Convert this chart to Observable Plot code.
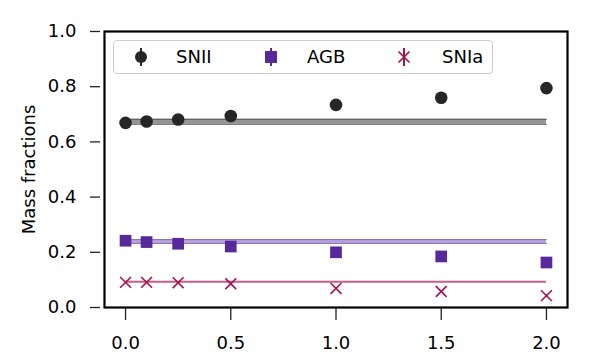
<!DOCTYPE html>
<html>
<head>
<meta charset="utf-8">
<script src="https://cdn.jsdelivr.net/npm/d3@7"></script>
<script src="https://cdn.jsdelivr.net/npm/@observablehq/plot@0.6"></script>
<style>
  body { margin: 0; background: #fff; }
  #wrap { position: relative; width: 598px; height: 360px; font-family: "DejaVu Sans", sans-serif; }
  #legend { position: absolute; left: 113px; top: 40px; width: 378px; height: 32px;
    border: 1px solid #cccccc; border-radius: 4px; background: rgba(255,255,255,0.8); }
  .item { position: absolute; top: 0; height: 32px; font-size: 18px; line-height: 32px; color: #000; }
  .sym { position: absolute; top: 0; }
</style>
</head>
<body>
<div id="wrap"></div>
<script>
// ---- data ----
const xs = [0, 0.1, 0.25, 0.5, 1.0, 1.5, 2.0];
const snii = [0.669, 0.674, 0.681, 0.694, 0.734, 0.760, 0.795];
const sniiErr = [0.003, 0.003, 0.004, 0.005, 0.008, 0.012, 0.014];
const agb = [0.242, 0.237, 0.231, 0.221, 0.200, 0.185, 0.163];
const agbErr = [0.003, 0.003, 0.003, 0.003, 0.004, 0.004, 0.005];
const snia = [0.091, 0.091, 0.090, 0.086, 0.069, 0.058, 0.043];
const sniaErr = [0.002, 0.002, 0.002, 0.002, 0.003, 0.003, 0.003];
const bandX = [0, 2];
const sniiBand = [0.664, 0.682];
const agbBand = [0.232, 0.246];
const sniaBand = [0.088, 0.095];
const seriesNames = ["SNII", "AGB", "SNIa"];
const colors = ["#262626", "#58299a", "#a8114f"];
const xTicks = [0, 0.5, 1.0, 1.5, 2.0];
const yTicks = [0, 0.2, 0.4, 0.6, 0.8, 1.0];
const yLabel = "Mass fractions";

const pts = (vals, errs) => xs.map((x, i) => ({x, y: vals[i], lo: vals[i] - errs[i], hi: vals[i] + errs[i]}));
const band = (b) => bandX.map(x => ({x, lo: b[0], hi: b[1]}));

const plot = Plot.plot({
  width: 598, height: 360,
  marginLeft: 104, marginRight: 31, marginTop: 31, marginBottom: 53,
  style: {fontFamily: "DejaVu Sans, sans-serif", fontSize: "18px", color: "#000", background: "#fff"},
  x: {domain: [-0.1, 2.1], ticks: xTicks, tickFormat: d3.format(".1f")},
  y: {domain: [0, 1], ticks: yTicks, tickFormat: d3.format(".1f")},
  marks: [
    // bands
    Plot.areaY(band(sniiBand), {x: "x", y1: "lo", y2: "hi", fill: "#8a8a8a", fillOpacity: 0.9}),
    Plot.lineY(band(sniiBand), {x: "x", y: "lo", stroke: "#555", strokeWidth: 1}),
    Plot.lineY(band(sniiBand), {x: "x", y: "hi", stroke: "#555", strokeWidth: 1}),
    Plot.areaY(band(agbBand), {x: "x", y1: "lo", y2: "hi", fill: "#a994d0", fillOpacity: 0.85}),
    Plot.lineY(band(agbBand), {x: "x", y: "lo", stroke: "#8a70bf", strokeWidth: 1}),
    Plot.lineY(band(agbBand), {x: "x", y: "hi", stroke: "#8a70bf", strokeWidth: 1}),
    Plot.areaY(band(sniaBand), {x: "x", y1: "lo", y2: "hi", fill: "#c64a7c", fillOpacity: 0.9}),
    // error bars
    Plot.ruleX(pts(snii, sniiErr), {x: "x", y1: "lo", y2: "hi", stroke: colors[0], strokeWidth: 2}),
    Plot.ruleX(pts(agb, agbErr), {x: "x", y1: "lo", y2: "hi", stroke: colors[1], strokeWidth: 2}),
    Plot.ruleX(pts(snia, sniaErr), {x: "x", y1: "lo", y2: "hi", stroke: colors[2], strokeWidth: 1.5}),
    // markers
    Plot.dot(pts(snii, sniiErr), {x: "x", y: "y", r: 6.3, fill: colors[0], stroke: "none"}),
    Plot.dot(pts(agb, agbErr), {x: "x", y: "y", r: 6.6, symbol: "square", fill: colors[1], stroke: "none"}),
    Plot.dot(pts(snia, sniaErr), {x: "x", y: "y", r: 5, symbol: "times", stroke: colors[2], strokeWidth: 1.6}),
    // axes
    Plot.axisY({ticks: yTicks, tickFormat: d3.format(".1f"), tickSize: 10, dx: -4, tickPadding: 14, label: null, stroke: "#222", strokeWidth: 1.3, fontSize: 18}),
    Plot.axisX({ticks: xTicks, tickFormat: d3.format(".1f"), tickSize: 12, dy: 1, tickPadding: 16, label: null, stroke: "#222", strokeWidth: 1.3, fontSize: 18}),
    Plot.text([yLabel], {frameAnchor: "left", text: d => d, rotate: -90, dx: -75, textAnchor: "middle", lineAnchor: "middle", fontSize: 18, fill: "#000"}),
    Plot.frame({stroke: "#000", strokeWidth: 2.2})
  ]
});
const wrap = document.getElementById("wrap");
wrap.appendChild(plot);

// legend
const legend = document.createElement("div");
legend.id = "legend";
const items = [
  {sym: "circle", sx: 27, tx: 62},
  {sym: "square", sx: 157, tx: 193},
  {sym: "times", sx: 290, tx: 328}
];
items.forEach((it, i) => {
  const s = d3.create("svg").attr("class", "sym").attr("width", 24).attr("height", 32)
    .style("left", (it.sx - 12) + "px");
  s.append("line").attr("x1", 12).attr("x2", 12).attr("y1", 7).attr("y2", 25)
    .attr("stroke", colors[i]).attr("stroke-width", 2);
  if (it.sym === "circle") s.append("circle").attr("cx", 12).attr("cy", 16).attr("r", 6).attr("fill", colors[i]);
  if (it.sym === "square") s.append("rect").attr("x", 6).attr("y", 10).attr("width", 12).attr("height", 12).attr("fill", colors[i]);
  if (it.sym === "times") s.append("path").attr("d", "M6.5,10.5L17.5,21.5M17.5,10.5L6.5,21.5").attr("stroke", colors[i]).attr("stroke-width", 1.6);
  legend.appendChild(s.node());
  const t = document.createElement("div");
  t.className = "item";
  t.style.left = it.tx + "px";
  t.textContent = seriesNames[i];
  legend.appendChild(t);
});
wrap.appendChild(legend);
</script>
</body>
</html>
